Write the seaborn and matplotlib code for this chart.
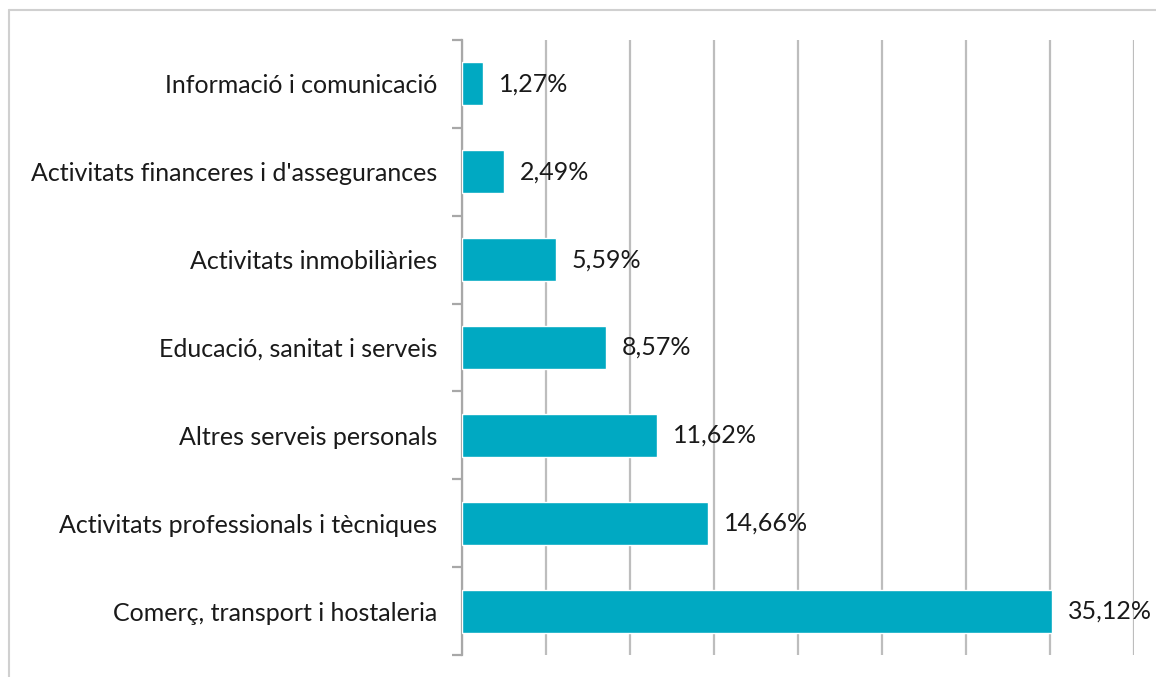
import pandas as pd
import seaborn as sns
import matplotlib.pyplot as plt
from matplotlib.lines import Line2D

sectors = [
    "Informació i comunicació",
    "Activitats financeres i d'assegurances",
    "Activitats inmobiliàries",
    "Educació, sanitat i serveis",
    "Altres serveis personals",
    "Activitats professionals i tècniques",
    "Comerç, transport i hostaleria",
]
shares = [1.27, 2.49, 5.59, 8.57, 11.62, 14.66, 35.12]

sns.set_theme(style="white")
plt.rcParams["font.family"] = ["Lato", "DejaVu Sans"]

fig = plt.figure(figsize=(11.56, 6.77), dpi=100)
ax = fig.add_axes([462 / 1156, 1 - 655 / 677, (1134 - 462) / 1156, 615 / 677])

df = pd.DataFrame({"sector": sectors, "share": shares})
sns.barplot(data=df, x="share", y="sector", orient="h", color="#00A9C2",
            saturation=1, width=0.49, ax=ax, zorder=3)

ax.set_xlim(0, 40)
ax.set_ylim(6.5, -0.5)
ax.set_xticks(range(0, 41, 5))
ax.set_xticklabels([])
ax.tick_params(axis="x", length=0)
ax.grid(axis="x", color="#BDBDBD", linewidth=1.6, zorder=0)
ax.set_xlabel("")
ax.set_ylabel("")

# category ticks sit between the bars
ax.set_yticks([i - 0.5 for i in range(8)], minor=True)
ax.tick_params(axis="y", which="minor", length=7, width=1.6, color="#A8A8A8", left=True)
ax.tick_params(axis="y", which="major", length=0, pad=18, labelsize=18, labelcolor="#1a1a1a")

for side in ["top", "right", "bottom"]:
    ax.spines[side].set_visible(False)
ax.spines["left"].set_color("#A8A8A8")
ax.spines["left"].set_linewidth(1.6)

for i, v in enumerate(shares):
    ax.text(v + 0.95, i, f"{v:.2f}%".replace(".", ","), va="center", ha="left",
            fontsize=18, color="#1a1a1a")

# outer frame (top and left edges)
fig.add_artist(Line2D([9 / 1156, 1], [1 - 10 / 677, 1 - 10 / 677], transform=fig.transFigure,
                      color="#D0D0D0", linewidth=1.5))
fig.add_artist(Line2D([9 / 1156, 9 / 1156], [0, 1 - 10 / 677], transform=fig.transFigure,
                      color="#D0D0D0", linewidth=1.5))

plt.savefig("out.png", dpi=100)
